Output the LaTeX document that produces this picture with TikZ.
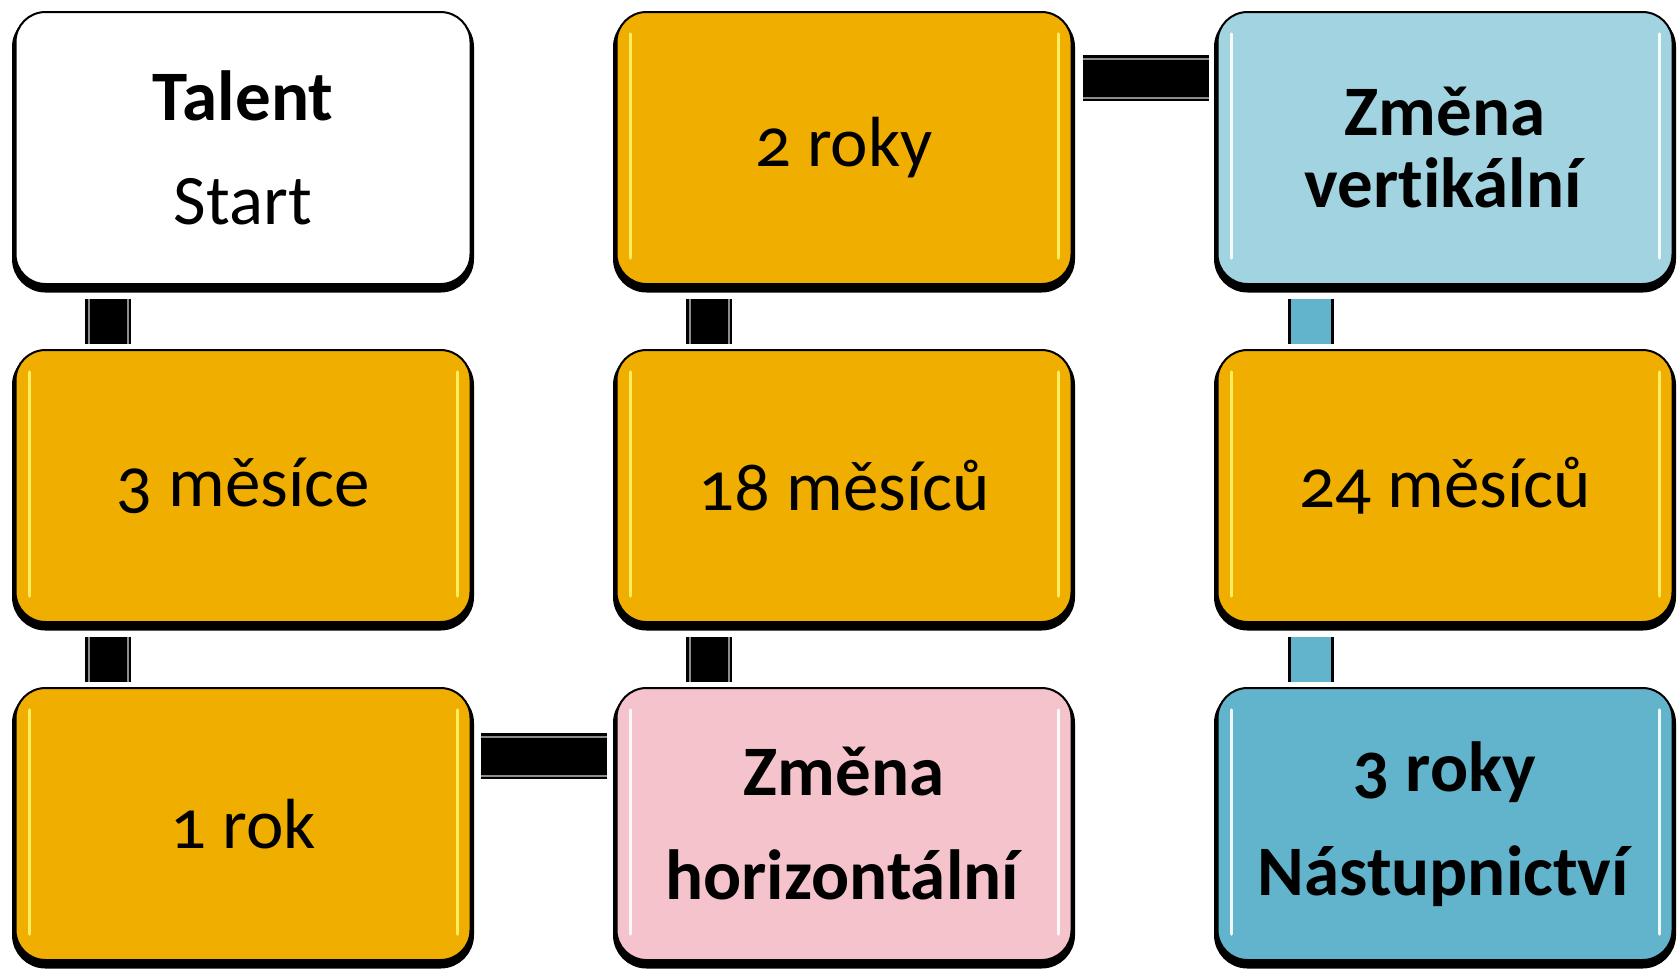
\documentclass[tikz,border=0pt]{standalone}
\usepackage{fontspec}
\setmainfont{Carlito}[Numbers=OldStyle, Ligatures=NoCommon]
\usetikzlibrary{calc}

\definecolor{gold}{HTML}{F0AE00}
\definecolor{pinkbox}{HTML}{F4C3CB}
\definecolor{lightblue}{HTML}{A2D3E0}
\definecolor{midblue}{HTML}{62B4CC}
\definecolor{goldgloss}{HTML}{FFF66A}

\tikzset{
  stepbox/.style={rectangle, rounded corners=30pt, draw=black, line width=2pt,
    minimum width=455pt, minimum height=272pt, inner sep=0pt, align=center,
    font=\fontsize{71}{72}\selectfont,
    preaction={draw=black, fill=black, line width=7pt, transform canvas={yshift=-5pt}}},
  gloss/.style={stepbox, path picture={
    \draw[#1, line width=3.5pt, line cap=round, opacity=.9]
      ([xshift=14pt,yshift=-22pt]path picture bounding box.north west)
      -- ([xshift=14pt,yshift=26pt]path picture bounding box.south west);
    \draw[#1, line width=3.5pt, line cap=round, opacity=.9]
      ([xshift=-13pt,yshift=-22pt]path picture bounding box.north east)
      -- ([xshift=-13pt,yshift=26pt]path picture bounding box.south east);}},
  bar/.style={draw=black, line width=46pt,
    postaction={draw=black!45, line width=41pt},
    postaction={draw=black, line width=37pt}},
  bluebar/.style={draw=black, line width=46pt,
    postaction={draw=midblue, line width=40pt}}
}

\begin{document}
\begin{tikzpicture}[x=1pt, y=-1pt]

\useasboundingbox (0,0) rectangle (1680,970);

% first column
\node[stepbox, fill=white] (talent) at (243,148)
  {\textbf{Talent}\\[32pt]Start};
\node[gloss=goldgloss, fill=gold] (mes3) at (243,486) {3 měsíce};
\node[gloss=goldgloss, fill=gold] (rok1) at (243,824) {1 rok};

% second column
\node[gloss=goldgloss, fill=gold] (roky2) at (844,148) {2 roky};
\node[gloss=goldgloss, fill=gold] (mes18) at (844,486) {18 měsíců};
\node[gloss=white, fill=pinkbox] (zmhor) at (844,824)
  {\textbf{Změna}\\[32pt]\textbf{horizontální}};

% third column
\node[gloss=white, fill=lightblue] (zmvert) at (1445,148)
  {\textbf{Změna}\\\textbf{vertikální}};
\node[gloss=goldgloss, fill=gold] (mes24) at (1445,486) {24 měsíců};
\node[gloss=white, fill=midblue] (roky3) at (1445,824)
  {\textbf{3 roky}\\[32pt]\textbf{Nástupnictví}};

% connectors
\draw[bar] ([xshift=-135pt,yshift=-14pt]talent.south) -- ([xshift=-135pt,yshift=5pt]mes3.north);
\draw[bar] ([xshift=-135pt,yshift=-14pt]mes3.south) -- ([xshift=-135pt,yshift=5pt]rok1.north);
\draw[bar] ([xshift=9pt,yshift=68pt]rok1.east) -- ([xshift=-9pt,yshift=68pt]zmhor.west);
\draw[bar] ([xshift=-135pt,yshift=5pt]zmhor.north) -- ([xshift=-135pt,yshift=-14pt]mes18.south);
\draw[bar] ([xshift=-135pt,yshift=5pt]mes18.north) -- ([xshift=-135pt,yshift=-14pt]roky2.south);
\draw[bar] ([xshift=10pt,yshift=70pt]roky2.east) -- ([xshift=-8pt,yshift=70pt]zmvert.west);
\draw[bluebar] ([xshift=-134pt,yshift=-14pt]zmvert.south) -- ([xshift=-134pt,yshift=5pt]mes24.north);
\draw[bluebar] ([xshift=-134pt,yshift=-14pt]mes24.south) -- ([xshift=-134pt,yshift=5pt]roky3.north);

\end{tikzpicture}
\end{document}
